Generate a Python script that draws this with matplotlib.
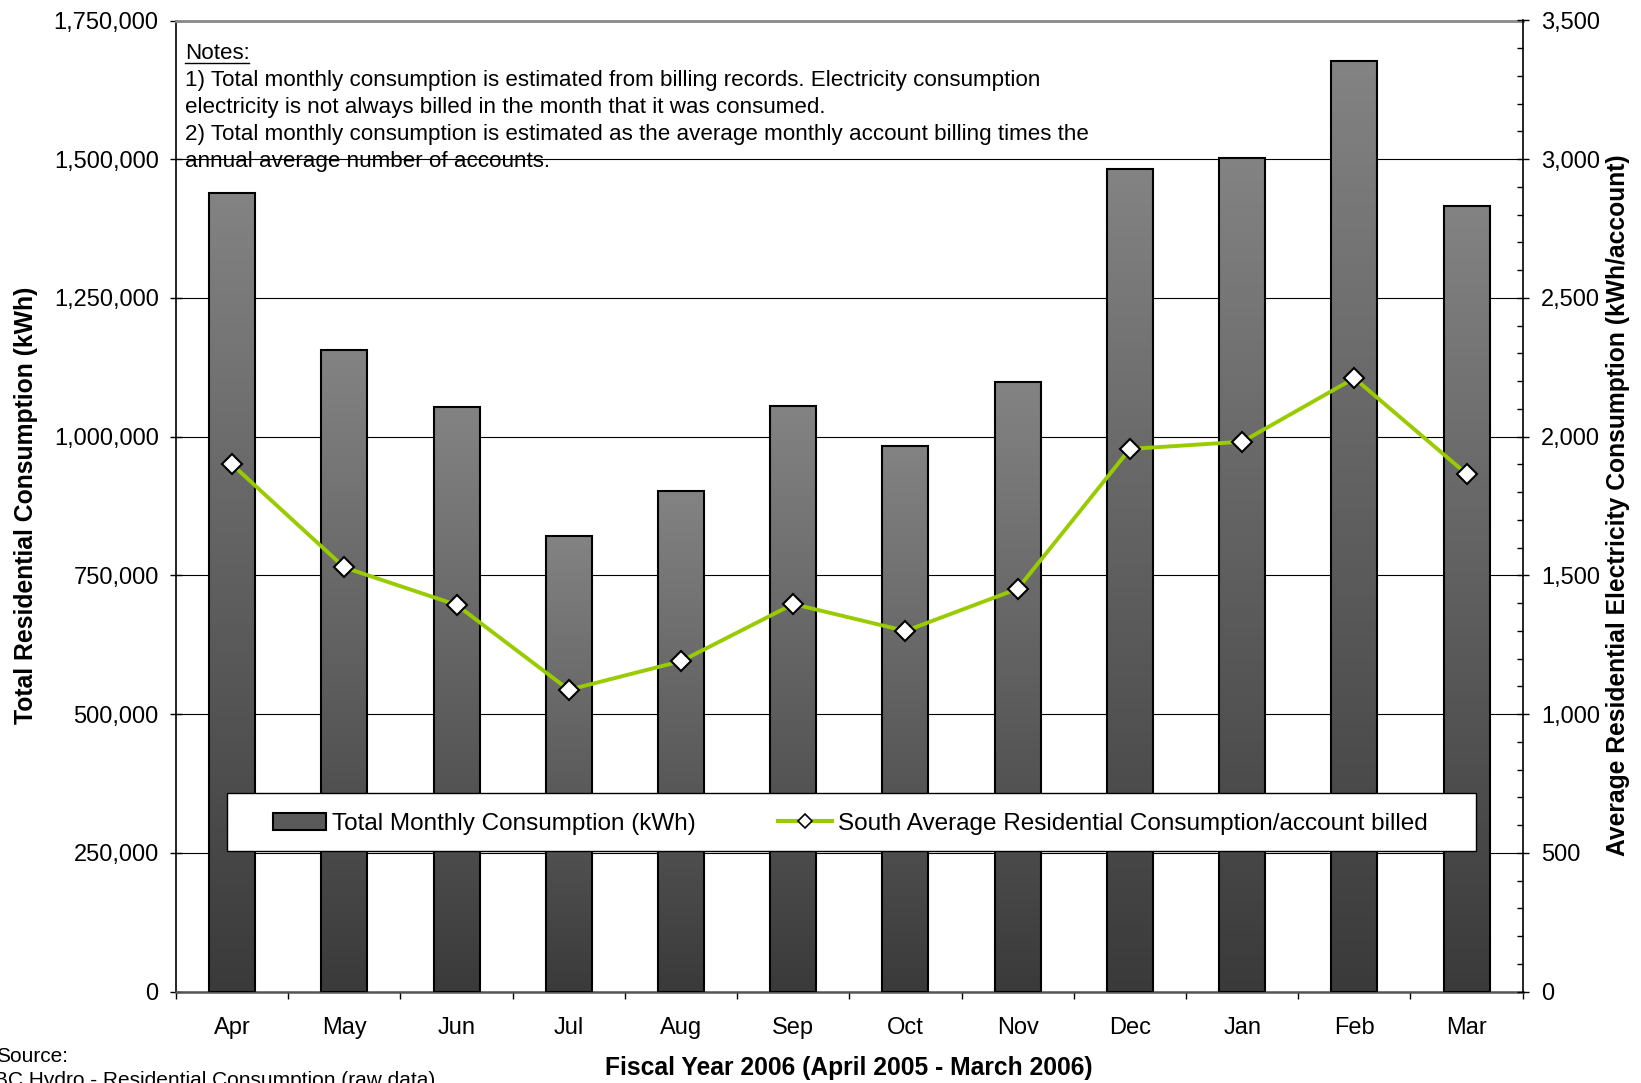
import numpy as np
import matplotlib
matplotlib.use("Agg")
import matplotlib.pyplot as plt
from matplotlib.colors import LinearSegmentedColormap
from matplotlib.patches import Patch, Rectangle
from matplotlib.lines import Line2D
from matplotlib.ticker import MultipleLocator, StrMethodFormatter, FixedLocator, NullFormatter

plt.rcParams['font.family'] = ['Liberation Sans', 'DejaVu Sans']

# ---------------- data ----------------
months = ["Apr", "May", "Jun", "Jul", "Aug", "Sep", "Oct", "Nov", "Dec", "Jan", "Feb", "Mar"]
total_kwh = [1439000, 1156000, 1054000, 822000, 902000, 1056000, 984000, 1099000,
             1482000, 1503000, 1677000, 1415000]
avg_kwh_per_account = [1900, 1529, 1394, 1088, 1191, 1397, 1300, 1452,
                       1956, 1982, 2211, 1866]
notes_lines = [
    "Notes:",
    "1) Total monthly consumption is estimated from billing records. Electricity consumption",
    "electricity is not always billed in the month that it was consumed.",
    "2) Total monthly consumption is estimated as the average monthly account billing times the",
    "annual average number of accounts.",
]
bar_label = "Total Monthly Consumption (kWh)"
line_label = "South Average Residential Consumption/account billed"
left_ylabel = "Total Residential Consumption (kWh)"
right_ylabel = "Average Residential Electricity Consumption (kWh/account)"
xlabel = "Fiscal Year 2006 (April 2005 - March 2006)"
source_lines = ["Source:", "BC Hydro - Residential Consumption (raw data)"]

W, H = 1641, 1083
fig = plt.figure(figsize=(W / 100, H / 100), dpi=100)
L, R, T, B = 176, 1522.7, 20.5, 991.7
ax = fig.add_axes([L / W, 1 - B / H, (R - L) / W, (B - T) / H])

x = np.arange(1, len(months) + 1)
bw = 0.41
cmap = LinearSegmentedColormap.from_list("g", ["#3a3a3a", "#838383"])
grad = np.linspace(0, 1, 256).reshape(-1, 1)
bars = ax.bar(x, total_kwh, width=bw, facecolor="none", edgecolor="black",
              linewidth=1.5, zorder=3)
for rect, xi, h in zip(bars, x, total_kwh):
    im = ax.imshow(grad, extent=[xi - bw / 2, xi + bw / 2, 0, h], origin="lower",
                   aspect="auto", cmap=cmap, zorder=2.5)
    im.set_clip_path(rect)

ax.set_xlim(0.5, len(months) + 0.5)
ax.set_ylim(0, 1750000)
ax.yaxis.set_major_locator(MultipleLocator(250000))
ax.yaxis.set_major_formatter(StrMethodFormatter("{x:,.0f}"))
ax.yaxis.grid(True, color="black", linewidth=0.8)
ax.set_axisbelow(True)

ax.xaxis.set_major_locator(FixedLocator(np.arange(0.5, len(months) + 1, 1)))
ax.xaxis.set_major_formatter(NullFormatter())
ax.xaxis.set_minor_locator(FixedLocator(x))
ax.set_xticks(x, months, minor=True)
ax.tick_params(axis="x", which="major", direction="out", length=5, width=1, color="black")
ax.tick_params(axis="x", which="minor", length=0, pad=18, labelsize=17)
ax.tick_params(axis="y", which="major", direction="inout", length=9, width=1, pad=8, labelsize=17)

ax.spines["left"].set_color("black")
ax.spines["left"].set_linewidth(1.2)
ax.spines["top"].set_color("#8a8a8a")
ax.spines["top"].set_linewidth(2)
ax.spines["bottom"].set_color("#555555")
ax.spines["bottom"].set_linewidth(1.8)
ax.spines["right"].set_visible(False)

ax2 = ax.twinx()
ax2.plot(x, avg_kwh_per_account, color="#99CC00", linewidth=2.8, marker="D",
         markersize=10.5, markerfacecolor="white", markeredgecolor="black",
         markeredgewidth=1.5, zorder=5, clip_on=False)
ax2.set_ylim(0, 3500)
ax2.yaxis.set_major_locator(MultipleLocator(500))
ax2.yaxis.set_minor_locator(MultipleLocator(100))
ax2.yaxis.set_major_formatter(StrMethodFormatter("{x:,.0f}"))
ax2.tick_params(axis="y", which="major", direction="inout", length=9, width=1, pad=8.5, labelsize=17)
ax2.tick_params(axis="y", which="minor", direction="in", length=4.5, width=1)
ax2.spines["right"].set_color("black")
ax2.spines["right"].set_linewidth(1.2)
for s in ["top", "bottom", "left"]:
    ax2.spines[s].set_visible(False)

# legend box
lx0, ly0, lw_, lh_ = 0.0379, 0.1449, 0.9274, 0.0597
ax2.add_patch(Rectangle((lx0, ly0), lw_, lh_, transform=ax2.transAxes, facecolor="white",
                        edgecolor="black", linewidth=1.0, zorder=10, clip_on=False))
handles = [Patch(facecolor="#5a5a5a", edgecolor="black", linewidth=1.5),
           Line2D([], [], color="#99CC00", linewidth=3, marker="D", markersize=7,
                  markerfacecolor="white", markeredgecolor="black", markeredgewidth=1.2)]
leg = ax2.legend(handles, [bar_label, line_label], loc="center",
                 bbox_to_anchor=(lx0 + lw_ / 2 - 0.001, ly0 + lh_ / 2 - 0.002),
                 bbox_transform=ax2.transAxes,
                 ncol=2, frameon=False, fontsize=17.5, handlelength=2.2, handletextpad=0.25,
                 columnspacing=3.4, borderpad=0)
leg.set_zorder(11)

# notes
ys = [53.5, 80.5, 107.5, 134.5, 161.5]
note_texts = []
for line, yy in zip(notes_lines, ys):
    t = fig.text(184.7 / W, 1 - yy / H, line, fontsize=16.1, ha="left", va="center")
    note_texts.append(t)

# axis labels
fig.text(26 / W, 1 - 505 / H, left_ylabel, rotation=90, ha="center", va="center",
         fontsize=17.8, fontweight="bold")
fig.text(1618 / W, 1 - 505 / H, right_ylabel, rotation=90, ha="center", va="center",
         fontsize=17.7, fontweight="bold")
fig.text(849 / W, 1 - 1068 / H, xlabel, ha="center", va="center", fontsize=17.7,
         fontweight="bold")

# source
fig.text(-4 / W, 1 - 1057 / H, source_lines[0], ha="left", va="center", fontsize=15)
fig.text(-6 / W, 1 - 1071 / H, source_lines[1], ha="left", va="top", fontsize=15)

# underline "Notes:"
fig.canvas.draw()
bb = note_texts[0].get_window_extent()
fig.add_artist(Line2D([bb.x0 / W, bb.x1 / W], [(bb.y0 + 1) / H, (bb.y0 + 1) / H],
                      transform=fig.transFigure, color="black", linewidth=1))

fig.savefig("out.png", dpi=100)
